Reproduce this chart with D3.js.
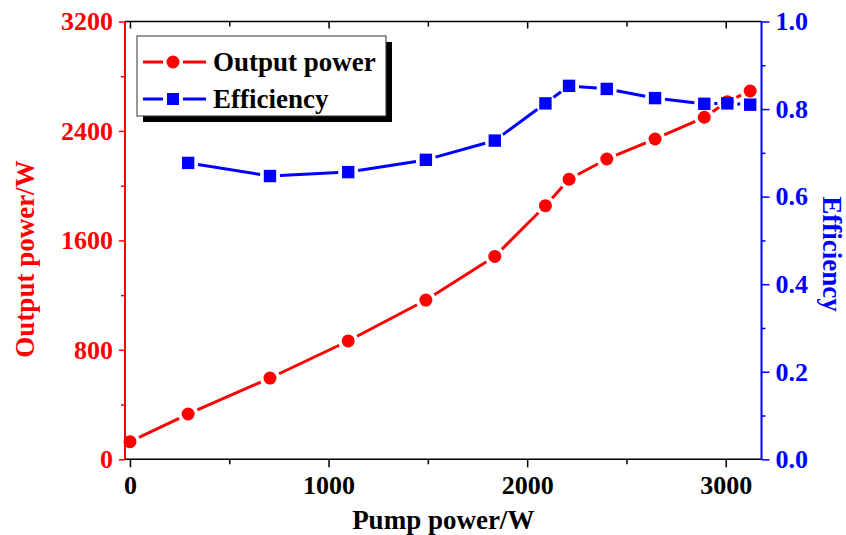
<!DOCTYPE html>
<html>
<head>
<meta charset="utf-8">
<script src="https://cdn.jsdelivr.net/npm/d3@7"></script>
<style>
  html, body { margin: 0; padding: 0; background: #fff; }
  svg { display: block; font-family: "Liberation Serif", "Times New Roman", serif; font-weight: bold; }
</style>
</head>
<body>
<svg id="chart" width="846" height="535"></svg>
<script>
// pump power (W) for each measured point
const pumpPower = [0, 293, 705, 1099, 1490, 1837, 2092, 2211, 2401, 2644, 2892, 3008, 3123];
const outputPower = [129, 331, 594, 865, 1164, 1483, 1854, 2047, 2195, 2341, 2500, 2614, 2692];
// efficiency has no point at zero pump
const effPump = [293, 705, 1099, 1490, 1837, 2092, 2211, 2401, 2644, 2892, 3008, 3123];
const efficiency = [0.677, 0.647, 0.656, 0.684, 0.728, 0.813, 0.853, 0.846, 0.825, 0.812, 0.813, 0.810];

const xTicks = [0, 1000, 2000, 3000];
const powerTicks = [0, 800, 1600, 2400, 3200];
const effTicks = [0, 0.2, 0.4, 0.6, 0.8, 1.0];

(() => {
    let margin = {top: 21.5, left: 125, right: 84.5, bottom: 75.7},
        width = 846 - margin.left - margin.right,
        height = 535 - margin.top - margin.bottom,
        x = d3.scaleLinear().domain([-25, 3180]).range([0, width]),
        yP = d3.scaleLinear().domain([0, 3200]).range([height, 0]),
        yE = d3.scaleLinear().domain([0, 1]).range([height, 0]),
        red = "#ff0000", blue = "#0000ff";

    let svg = d3.select("#chart");
    let g = svg.append("g")
        .attr("transform", "translate(" + margin.left + "," + margin.top + ")");

    const fmtE = d3.format(".1f"), fmtI = d3.format("d");

    function addAxis(axis, tf, color, cls) {
        let a = g.append("g").attr("class", cls).attr("transform", tf).call(axis);
        a.select(".domain").remove();
        a.selectAll("line").attr("stroke", color).attr("stroke-width", 1.5);
        a.selectAll("text").attr("fill", color).style("font-size", "26px")
            .style("font-family", "'Liberation Serif', 'Times New Roman', serif").style("font-weight", "bold");
        return a;
    }

    // bottom: minor then major
    addAxis(d3.axisBottom(x).tickValues(d3.range(500, 3200, 1000)).tickSize(5).tickFormat(""),
        "translate(0," + height + ")", "#000", "xminor");
    addAxis(d3.axisBottom(x).tickValues(xTicks).tickSize(8).tickPadding(8).tickFormat(fmtI),
        "translate(0," + height + ")", "#000", "x axis");
    // top, ticks inward
    addAxis(d3.axisBottom(x).tickValues(d3.range(500, 3200, 1000)).tickSize(5).tickFormat(""), "translate(0,0)", "#000", "tminor");
    addAxis(d3.axisBottom(x).tickValues(xTicks).tickSize(7).tickFormat(""), "translate(0,0)", "#000", "top");

    // left
    addAxis(d3.axisLeft(yP).tickValues(d3.range(400, 3200, 800)).tickSize(4).tickFormat(""), null, red, "lminor");
    addAxis(d3.axisLeft(yP).tickValues(powerTicks).tickSize(6).tickPadding(6).tickFormat(fmtI), null, red, "y axis");
    // right
    addAxis(d3.axisRight(yE).tickValues(d3.range(0.1, 1, 0.2)).tickSize(4).tickFormat(""),
        "translate(" + width + ",0)", blue, "rminor");
    addAxis(d3.axisRight(yE).tickValues(effTicks).tickSize(8).tickPadding(6).tickFormat(fmtE),
        "translate(" + width + ",0)", blue, "y2 axis");

    // frame lines
    g.append("line").attr("x1", 0).attr("x2", width).attr("y1", height).attr("y2", height)
        .attr("stroke", "#000").attr("stroke-width", 1.5);
    g.append("line").attr("x1", 0).attr("x2", width).attr("y1", 0).attr("y2", 0)
        .attr("stroke", "#000").attr("stroke-width", 1.5);
    g.append("line").attr("x1", 0).attr("x2", 0).attr("y1", 0).attr("y2", height)
        .attr("stroke", red).attr("stroke-width", 2);
    g.append("line").attr("x1", width).attr("x2", width).attr("y1", 0).attr("y2", height)
        .attr("stroke", blue).attr("stroke-width", 2);

    // line pieces that stop short of each marker
    function gappedSegments(pts, gap) {
        let segs = [];
        for (let i = 0; i < pts.length - 1; i++) {
            let [x1, y1] = pts[i], [x2, y2] = pts[i + 1];
            let dx = x2 - x1, dy = y2 - y1, len = Math.sqrt(dx * dx + dy * dy);
            if (len <= 2 * gap) continue;
            let ux = dx / len, uy = dy / len;
            segs.push([x1 + ux * gap, y1 + uy * gap, x2 - ux * gap, y2 - uy * gap]);
        }
        return segs;
    }

    let redPts = pumpPower.map((p, i) => [x(p), yP(outputPower[i])]);
    let bluePts = effPump.map((p, i) => [x(p), yE(efficiency[i])]);

    g.selectAll(".redseg").data(gappedSegments(redPts, 10)).enter().append("line")
        .attr("class", "redseg")
        .attr("x1", d => d[0]).attr("y1", d => d[1]).attr("x2", d => d[2]).attr("y2", d => d[3])
        .attr("stroke", red).attr("stroke-width", 3);
    g.selectAll(".dot").data(redPts).enter().append("circle")
        .attr("class", "dot")
        .attr("cx", d => d[0]).attr("cy", d => d[1]).attr("r", 6.5)
        .attr("fill", red);

    g.selectAll(".blueseg").data(gappedSegments(bluePts, 10)).enter().append("line")
        .attr("class", "blueseg")
        .attr("x1", d => d[0]).attr("y1", d => d[1]).attr("x2", d => d[2]).attr("y2", d => d[3])
        .attr("stroke", blue).attr("stroke-width", 3);
    g.selectAll(".sq").data(bluePts).enter().append("rect")
        .attr("class", "sq")
        .attr("x", d => d[0] - 6.2).attr("y", d => d[1] - 6.2)
        .attr("width", 12.4).attr("height", 12.4)
        .attr("fill", blue);

    // axis titles
    svg.append("text")
        .attr("x", margin.left + width / 2).attr("y", 529)
        .attr("text-anchor", "middle").style("font-size", "27px").attr("fill", "#000")
        .text("Pump power/W");
    svg.append("text")
        .attr("transform", "translate(34,259) rotate(-90)")
        .attr("text-anchor", "middle").style("font-size", "27px").attr("fill", red)
        .text("Output power/W");
    svg.append("text")
        .attr("transform", "translate(823,254) rotate(90)")
        .attr("text-anchor", "middle").style("font-size", "27px").attr("fill", blue)
        .text("Efficiency");

    // legend
    let legend = svg.append("g").attr("transform", "translate(137,36)");
    legend.append("rect").attr("x", 6).attr("y", 6).attr("width", 249).attr("height", 80).attr("fill", "#000");
    legend.append("rect").attr("x", 0).attr("y", 0).attr("width", 249).attr("height", 80)
        .attr("fill", "#fff").attr("stroke", "#333").attr("stroke-width", 1);

    let items = [{name: "Output power", color: red, shape: "circle"}, {name: "Efficiency", color: blue, shape: "square"}];
    let li = legend.selectAll(".legend").data(items).enter().append("g")
        .attr("class", "legend")
        .attr("transform", (d, i) => "translate(0," + (26 + i * 37) + ")");
    li.append("line").attr("x1", 6).attr("x2", 26).attr("stroke", d => d.color).attr("stroke-width", 3);
    li.append("line").attr("x1", 46).attr("x2", 69).attr("stroke", d => d.color).attr("stroke-width", 3);
    li.filter(d => d.shape === "circle").append("circle").attr("cx", 36).attr("r", 6.5).attr("fill", d => d.color);
    li.filter(d => d.shape === "square").append("rect").attr("x", 30).attr("y", -6).attr("width", 12).attr("height", 12).attr("fill", d => d.color);
    li.append("text").attr("x", 76).attr("y", 9).style("font-size", "27px").attr("fill", "#000")
        .text(d => d.name);
})();
</script>
</body>
</html>
